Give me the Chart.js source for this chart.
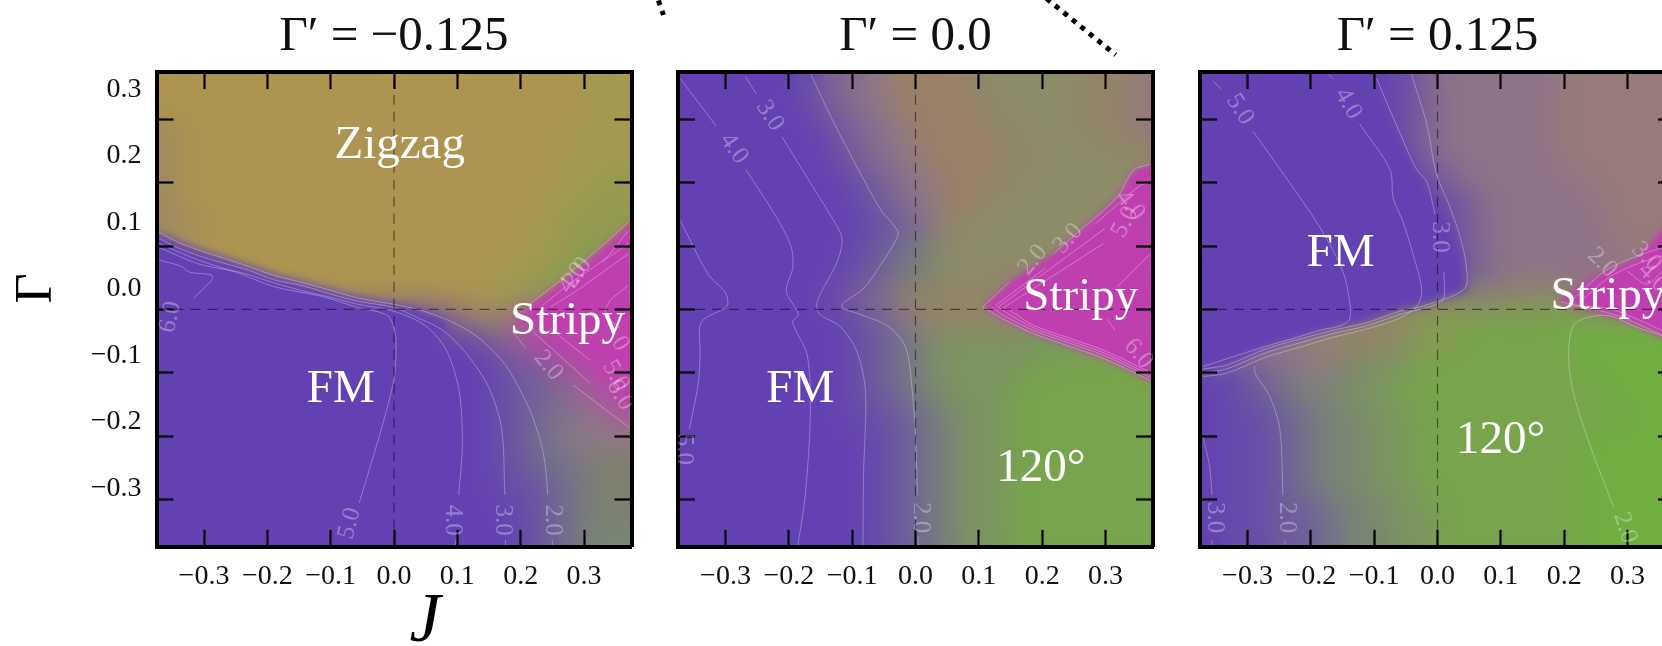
<!DOCTYPE html>
<html><head><meta charset="utf-8">
<style>
html,body{margin:0;padding:0;background:#fff;width:1662px;height:646px;overflow:hidden}
#wrap{position:relative;width:1662px;height:646px;overflow:hidden}
canvas{position:absolute;top:0}
</style>
<script src="https://cdn.jsdelivr.net/npm/chart.js@4/dist/chart.umd.min.js"></script>
</head><body><div id="wrap">
<canvas id="c1" width="640" height="646" style="left:0"></canvas>
<canvas id="c2" width="540" height="646" style="left:640px"></canvas>
<canvas id="c3" width="520" height="646" style="left:1180px"></canvas>
</div>
<script>
// ---------- axes ----------
const xTicks = [-0.3,-0.2,-0.1,0,0.1,0.2,0.3];
const yTicks = [-0.3,-0.2,-0.1,0,0.1,0.2,0.3];
const yLabelRange = [-0.388,0.3266];
// ---------- heat-map cells: columns at J, rows at Gamma ----------
const jCells = [-.356,-.319,-.281,-.244,-.206,-.169,-.131,-.094,-.056,-.019,.019,.056,.094,.131,.169,.206,.244,.281,.319,.356];
const gammaCells = [.356,.319,.281,.244,.206,.169,.131,.094,.056,.019,-.019,-.056,-.094,-.131,-.169,-.206,-.244,-.281,-.319,-.356];
const phaseColors = {a:'#6441B2',b:'#684CA9',c:'#6E5D9C',d:'#737289',e:'#7A8574',f:'#7B9560',g:'#78A44C',h:'#70AE42',
  z:'#AD9450',w:'#A39A50',y:'#949A50',x:'#859C50',r:'#A08A60',s:'#C03FB0',t:'#A8579A',u:'#8E7A85',v:'#7F806F',
  m:'#9B8068',n:'#938468',o:'#8C8C68',p:'#8E7488',q:'#967B7A',i:'#7C6096',j:'#866E8E',k:'#7D7F85'};
const cellsA = [
'zzzzzzzzzzzzzzzzzzww','zzzzzzzzzzzzzzzzzzww','rzzzzzzzzzzzzzzzzwww','rzzzzzzzzzzzzzzzzwww',
'rzzzzzzzzzzzzzzzwwwy','rzzzzzzzzzzzzzzzwwyy','rrzzzzzzzzzzzzzwwyyy','rzzzzzzzzzzzzzzwwyxx',
'zzzzzzzzzzzzzzwwyxxx','zzzzzzzzzzzzzzwyxxxx','aaaaaaaaaaaainntssss','aaaaaaaaaaaaaaitssss',
'aaaaaaaaaaaaaabcitss','aaaaaaaaaaaaaabcijts','aaaaaaaaaaaaaabcdjut','aaaaaaaaaaaaaabcduuu',
'aaaaaaaaaaaaaabcddvv','aaaaaaaaaaaaaabbcdvv','aaaaaaaaaaaaaaabcdev','aaaaaaaaaaaaaaabcdee'];
const cellsB = [
'aaaaabijummmnoooonnq','aaaaabijummmnoooonnq','aaaaaabijummmnooonnq','aaaaaabijummmnnoooon',
'aaaaaaabijummnoooooo','aaaaaaabcjummooooooo','aaaaaaaabcjnoooooooo','aaaaaaabcdeooooooooo',
'aaaaaaabcdeooooooooo','aaaaaabijnnnnntooooo','aaaaaaabcjnnnnnfffff','aaaaaaabcdefffffffgg',
'aaaaaaabcdeffffggggg','aaaaaaabcdefffgggggg','aaaaaaabbcdeffgggggg','aaaaaaaabcdeffgggggg',
'aaaaaaaabcdeffgggggg','aaaaaaaabcdeffgggggg','aaaaaaaabcdeffgggggg','aaaaaaaabcdeffgggggg'];
const cellsC = [
'aaaaaaaabipppppqqqqq','aaaaaaaabipppppqqqqq','aaaaaaaabipppppqqqqq','aaaaaaaabipppppqqqqq',
'aaaaaaaaabipppppqqqq','aaaaaaaaabbipppppqqq','aaaaaaaaaabipppppqqq','aaaaaaaaaabippppppqq',
'aaaaaaaaaabcjppppqqt','nnnnnnnnnnnnnnonttss','uuuunnnnoxxgggghhhhh','uuuuunnnoxxggggghhhh',
'bbijuueffggggggghhhh','abcdeeffggggggggghhh','abbcdeeffggggggggghh','abbcdeeffggggggghhhh',
'abbcdeeffggggggghhhh','abbcdeeffggggggghhhh','abbccdeeffgggggghhhh','abbccdeeffgggggghhhh'];
// ---------- sharp phase regions: [upper edge, lower edge, phase] as [J, Gamma] ----------
const regionsA = [
 [[[-.375,.122],[-.343,.108],[-.309,.095],[-.269,.082],[-.23,.069],[-.19,.055],[-.143,.043],[-.096,.03],[-.057,.019],[0,.009],[.037,.001],[.083,-.017]],
  [[-.375,-.08],[.02,-.08],[.083,-.03]],'a'],
 [[[.19,-.02],[.215,.006],[.2626,.043],[.32,.09],[.375,.14]],[[.19,-.02],[.25,-.03],[.375,-.03]],'s']];
const regionsB = [
 [[[.106,.004],[.149,.044],[.2175,.088],[.26,.125],[.318,.177],[.344,.22],[.375,.23]],
  [[.106,.004],[.138,-.015],[.186,-.038],[.239,-.057],[.291,-.075],[.333,-.094],[.375,-.115]],'s']];
const regionsC = [
 [[[-.375,.375],[-.11,.375],[-.07,.293],[-.03,.215],[.005,.163],[.028,.117],[.042,.072],[.048,.03]],
  [[-.375,-.094],[-.333,-.088],[-.27,-.062],[-.218,-.047],[-.165,-.033],[-.112,-.021],[-.06,-.003],[-.017,.007],[.048,.03]],'a'],
 [[[.188,.012],[.256,.055],[.314,.08],[.354,.125],[.375,.15]],
  [[.188,.012],[.261,-.0066],[.293,-.017],[.354,-.044],[.375,-.052]],'s']];
// ---------- contour lines [J, Gamma] ----------
const contoursA = [
 [[-.371,.122],[-.343,.107],[-.309,.094],[-.269,.081],[-.23,.068],[-.19,.054],[-.143,.042],[-.096,.029],[-.057,.018],[0,.008],[.037,0],[.083,-.016],[.13,-.042],[.176,-.088],[.216,-.163],[.236,-.228],[.243,-.293]],
 [[.25,-.364],[.25,-.375]],
 [[-.371,.112],[-.343,.098],[-.309,.085],[-.269,.073],[-.23,.062],[-.19,.047],[-.143,.037],[-.096,.023],[-.057,.013],[0,.003],[.037,-.013],[.077,-.033],[.116,-.072],[.15,-.124],[.17,-.189],[.175,-.293]],
 [[.176,-.364],[.176,-.375]],
 [[-.371,.104],[-.343,.092],[-.309,.078],[-.269,.065],[-.23,.055],[-.19,.042],[-.143,.029],[-.096,.018],[-.057,.008],[0,-.003],[.05,-.026],[.083,-.065],[.103,-.13],[.108,-.215],[.102,-.293]],
 [[.098,-.364],[.096,-.375]],
 [[-.371,.098],[-.309,.072],[-.25,.059],[-.19,.036],[-.116,.021],[-.057,.003],[-.01,-.01],[.002,-.039],[.003,-.072],[0,-.111],[-.02,-.189],[-.055,-.306]],
 [[-.371,.078],[-.336,.068],[-.323,.059],[-.286,.052],[-.316,.018]],
 [[.2836,-.12],[.3705,-.186]],
 [[.2204,-.036],[.31,-.117]],
 [[.2468,-.0305],[.31,-.0806]],
 [[.186,-.033],[.207,-.06]],
 [[.215,.009],[.2626,.0458],[.32,.093],[.37,.138]],
 [[.231,.0036],[.278,.041],[.336,.0826],[.37,.125]],
 [[.2468,.0036],[.289,.03],[.37,.088]],
 [[.328,.0747],[.37,.104]],
 [[.37,.038],[.3415,.014],[.3336,-.0066],[.357,-.03]]];
const contoursB = [
 [[-.165,.371],[-.131,.299],[-.087,.215],[-.054,.156],[-.028,.124],[-.03,.111],[-.054,.072],[-.082,.033],[-.117,.005],[-.087,-.008],[-.044,-.026],[-.016,-.059],[-.005,-.13],[.001,-.221],[.003,-.293]],
 [[.004,-.358],[.005,-.374]],
 [[-.269,.368],[-.251,.34]],
 [[-.211,.273],[-.163,.195],[-.12,.124],[-.116,.104],[-.125,.072],[-.155,.013],[-.152,-.007],[-.12,-.026],[-.093,-.065],[-.079,-.13],[-.082,-.26],[-.083,-.374]],
 [[-.371,.364],[-.315,.29]],
 [[-.268,.221],[-.218,.143],[-.196,.098],[-.194,.065],[-.204,.029],[-.185,-.008],[-.194,-.02],[-.171,-.072],[-.166,-.163],[-.174,-.293],[-.186,-.374]],
 [[-.371,.14],[-.327,.055],[-.30,.026],[-.298,.005],[-.338,-.02],[-.34,-.072],[-.343,-.117],[-.357,-.189]],
 [[.106,.004],[.149,.044]],
 [[.2175,.088],[.26,.125],[.318,.177],[.344,.22],[.37,.229]],
 [[.126,.006],[.205,.065]],
 [[.284,.135],[.355,.196],[.372,.201]],
 [[.131,.004],[.2994,.128]],
 [[.138,.002],[.2967,.104]],
 [[.318,.035],[.37,.087]],
 [[.302,-.015],[.315,-.033]],
 [[.106,.004],[.138,-.015],[.186,-.038],[.239,-.057],[.291,-.075],[.333,-.094],[.37,-.112]],
 [[.12,.004],[.14,-.01],[.186,-.033],[.239,-.052],[.291,-.07],[.333,-.089],[.37,-.107]],
 [[.13,.004],[.145,-.006],[.186,-.029],[.239,-.048],[.291,-.066],[.333,-.085],[.37,-.103]],
 [[.14,.002],[.15,-.002],[.186,-.025],[.239,-.044],[.291,-.062],[.333,-.081],[.37,-.099]]];
const contoursC = [
 [[-.37,-.094],[-.333,-.088],[-.27,-.062],[-.218,-.047],[-.165,-.033],[-.112,-.021],[-.06,-.003],[-.017,.007],[.043,.033],[.045,.072],[.035,.117],[.019,.163],[-.002,.215],[-.017,.293],[-.041,.371]],
 [[-.37,-.1],[-.333,-.094],[-.27,-.068],[-.218,-.053],[-.165,-.038],[-.112,-.026],[-.06,-.008],[-.017,.003],[.009,.016],[.01,.059]],
 [[-.004,.15],[-.017,.202],[-.033,.221],[-.06,.28],[-.096,.364]],
 [[-.37,-.106],[-.333,-.101],[-.27,-.075],[-.218,-.06],[-.165,-.044],[-.112,-.031],[-.06,-.014],[-.031,.007],[-.025,.033],[-.038,.085],[-.054,.137],[-.07,.176],[-.075,.221],[-.123,.293]],
 [[-.165,.364],[-.172,.371]],
 [[-.37,-.09],[-.27,-.058],[-.228,-.046],[-.186,-.033],[-.154,-.026],[-.139,-.016],[-.138,.007],[-.149,.059],[-.186,.13],[-.239,.208],[-.291,.281]],
 [[-.341,.348],[-.355,.361]],
 [[-.289,-.09],[-.287,-.103],[-.265,-.137],[-.249,-.189],[-.244,-.293]],
 [[-.241,-.364],[-.241,-.375]],
 [[-.37,-.202],[-.36,-.247],[-.356,-.293]],
 [[-.356,-.364],[-.356,-.375]],
 [[.278,-.312],[.241,-.215],[.214,-.13],[.207,-.072],[.214,-.026],[.236,-.013],[.272,-.01],[.309,-.026],[.355,-.042]],
 [[.3,-.368],[.305,-.375]],
 [[.214,.016],[.262,.059],[.299,.078],[.355,.098]],
 [[.225,.012],[.27,.05],[.31,.07],[.355,.085]],
 [[.195,.012],[.261,-.003],[.293,-.013],[.354,-.04]],
 [[.205,.006],[.261,.003],[.293,-.006],[.354,-.033]],
 [[.3,.06],[.33,.04],[.355,.06]]];
// ---------- texts ----------
const contourTextA = [['5.0',-.07,-.338,-75],['4.0',.093,-.333,90],['3.0',.171,-.333,90],['2.0',.25,-.333,90],['6.0',-.353,-.012,-78],
 ['2.0',.2437,-.0885,50],['4.0',.282,.05,-55],['2.0',.29,.058,-55],['5.0',.35,-.105,60],['6.0',.357,-.135,60],['0',.357,-.054,60]];
const contourTextB = [['2.0',.008,-.329,90],['3.0',-.23,.306,58],['4.0',-.287,.254,55],['5.0',-.366,-.221,90],
 ['2.0',.185,.078,-50],['3.0',.241,.112,-48],['5.0',.331,.138,-62],['4.0',.339,.164,50],['6.0',.352,-.07,50]];
const contourTextC = [['5.0',-.312,.316,58],['4.0',-.141,.325,60],['3.0',.003,.114,90],['2.0',-.239,-.329,90],['3.0',-.352,-.329,90],['2.0',.296,-.345,72],
 ['2.0',.26,.074,45],['3.0',.33,.083,45],['4.0',.34,.05,45]];
const phaseTextA = [['Zigzag',.009,.258],['FM',-.084,-.126],['Stripy',.274,-.02]];
const phaseTextB = [['FM',-.182,-.126],['Stripy',.261,.018],['120°',.198,-.252]];
const phaseTextC = [['FM',-.153,.088],['Stripy',.269,.02],['120°',.0996,-.208]];
const dottedB = [[[.207,.491],[.316,.402]],[[-.406,.488],[-.398,.465]]];

const SERIF = '"Liberation Serif","Times New Roman",serif';
const fmt = v => (v<0?'\u2212':'')+Math.abs(v).toFixed(1);
const setTicks = vals => s => { s.ticks = vals.map(v=>({value:v})); };
const pts = a => a.map(p=>({x:p[0],y:p[1]}));

const blurPlugin = {id:'blurLayer', afterDatasetDraw(chart,args){
  const ds = chart.data.datasets[args.index];
  if(!ds.blurPx) return;
  const a = chart.chartArea, ctx = chart.ctx;
  const w=Math.round(a.width), h=Math.round(a.height), l=Math.round(a.left), t=Math.round(a.top);
  const tmp=document.createElement('canvas'); tmp.width=w; tmp.height=h;
  tmp.getContext('2d').drawImage(chart.canvas,l,t,w,h,0,0,w,h);
  ctx.save(); ctx.beginPath(); ctx.rect(l,t,w,h); ctx.clip();
  ctx.filter='blur('+ds.blurPx+'px)'; ctx.drawImage(tmp,l,t); ctx.restore();
}};
const textPlugin = {id:'panelText', afterDraw(chart,args,opts){
  const ctx=chart.ctx, X=chart.scales.x, Y=chart.scales.y;
  const put=(s,j,g,rot,font,color)=>{ctx.save();ctx.translate(X.getPixelForValue(j),Y.getPixelForValue(g));
    ctx.rotate((rot||0)*Math.PI/180);ctx.font=font;ctx.fillStyle=color;ctx.textAlign='center';ctx.textBaseline='middle';ctx.fillText(s,0,0);ctx.restore();};
  ctx.save();ctx.beginPath();ctx.rect(chart.chartArea.left,chart.chartArea.top,chart.chartArea.width,chart.chartArea.height);ctx.clip();
  opts.contour.forEach(c=>put(c[0],c[1],c[2],c[3],'25px '+SERIF,'rgba(255,255,255,0.32)'));
  opts.phase.forEach(c=>put(c[0],c[1],c[2],0,'47px '+SERIF,'#fff'));
  ctx.restore();
  (opts.axis||[]).forEach(c=>put(c[0],c[1],c[2],c[3],c[4]+' '+SERIF,'#000'));
}};

function axis(extra){
  return Object.assign({type:'linear',min:-.375,max:.375,
    afterBuildTicks:setTicks(xTicks),
    grid:{drawOnChartArea:false,tickLength:-17,tickWidth:2.2,tickColor:'#000',z:1},
    border:{color:'#000',width:4,z:2},
    ticks:{display:false}},extra);
}
function panel(id,title,cells,regions,contours,ctext,ptext,pad,opts){
  opts=opts||{};
  const heat=[];const cols=[];
  gammaCells.forEach((g,r)=>jCells.forEach((j,c)=>{heat.push({x:j,y:g});cols.push(phaseColors[cells[r][c]]);}));
  const ds=[{type:'scatter',data:heat,pointStyle:'rect',pointBackgroundColor:cols,pointBorderWidth:0,showLine:false,order:50,blurPx:15,
     pointRadius:ctx=>{const s=ctx.chart.scales.x;return .76*(s.getPixelForValue(jCells[1])-s.getPixelForValue(jCells[0]));},
     pointHoverRadius:0}];
  let ord=40;
  regions.forEach(rg=>{
    ds.push({type:'line',data:pts(rg[0]),fill:'+1',backgroundColor:phaseColors[rg[2]],borderWidth:0,pointRadius:0,tension:0,order:ord--,blurPx:3});
    ds.push({type:'line',data:pts(rg[1]),fill:false,borderWidth:0,pointRadius:0,tension:0,order:ord--});
  });
  contours.forEach(l=>ds.push({type:'line',data:pts(l),fill:false,borderColor:'rgba(255,255,255,0.3)',borderWidth:1,pointRadius:0,tension:.3,order:10}));
  ds.push({type:'line',data:pts([[0,-.375],[0,.375]]),fill:false,borderColor:'rgba(0,0,0,0.5)',borderWidth:1.2,borderDash:[10,7],pointRadius:0,order:5});
  ds.push({type:'line',data:pts([[-.375,0],[.375,0]]),fill:false,borderColor:'rgba(0,0,0,0.5)',borderWidth:1.2,borderDash:[10,7],pointRadius:0,order:5});
  (opts.dotted||[]).forEach(l=>ds.push({type:'line',data:pts(l),fill:false,borderColor:'#000',borderWidth:5,borderDash:[5,6],pointRadius:0,clip:false,order:4}));
  const scales={
    x:axis({position:'bottom',ticks:{display:true,autoSkip:false,maxRotation:0,color:'#111',font:{family:SERIF,size:28},padding:30,callback:fmt},
      afterFit:s=>{s.height=646-546.8;}}),
    x2:axis({position:'top',axis:'x',afterFit:s=>{s.height=0;}}),
    y:axis({position:'left',afterBuildTicks:setTicks(yTicks),afterFit:s=>{s.width=0;}}),
    y2:axis({position:'right',axis:'y',afterBuildTicks:setTicks(yTicks),afterFit:s=>{s.width=0;}})
  };
  if(opts.yLabels){
    scales.yl={type:'linear',position:'left',axis:'y',weight:5,min:yLabelRange[0],max:yLabelRange[1],afterBuildTicks:setTicks(yTicks),
      grid:{display:false},border:{display:false},
      ticks:{color:'#111',font:{family:SERIF,size:28},padding:7,autoSkip:false,callback:fmt},
      afterFit:s=>{s.width=156.5;}};
  }
  return new Chart(document.getElementById(id),{
    type:'scatter',data:{datasets:ds},
    options:{responsive:false,animation:false,events:[],
      layout:{padding:pad},
      plugins:{legend:{display:false},tooltip:{enabled:false},
        title:{display:true,text:title,fullSize:false,color:'#111',font:{family:SERIF,size:49,weight:'normal',lineHeight:1.2},padding:{top:7.6,bottom:5.6}},
        panelText:{contour:ctext,phase:ptext,axis:opts.axis}},
      scales},
    plugins:[blurPlugin,textPlugin]});
}
panel('c1','\u0393\u2032 = \u22120.125',cellsA,regionsA,contoursA,contourTextA,phaseTextA,{left:0,right:8.5,top:0,bottom:0},
  {yLabels:true,axis:[['J',.049,-.494,0,'italic 70px'],['\u0393',-.563,.033,-90,'52px']]});
panel('c2','\u0393\u2032 = 0.0',cellsB,regionsB,contoursB,contourTextB,phaseTextB,{left:38,right:27,top:0,bottom:0},{dotted:dottedB});
panel('c3','\u0393\u2032 = 0.125',cellsC,regionsC,contoursC,contourTextC,phaseTextC,{left:20,right:25,top:0,bottom:0});
</script></body></html>
